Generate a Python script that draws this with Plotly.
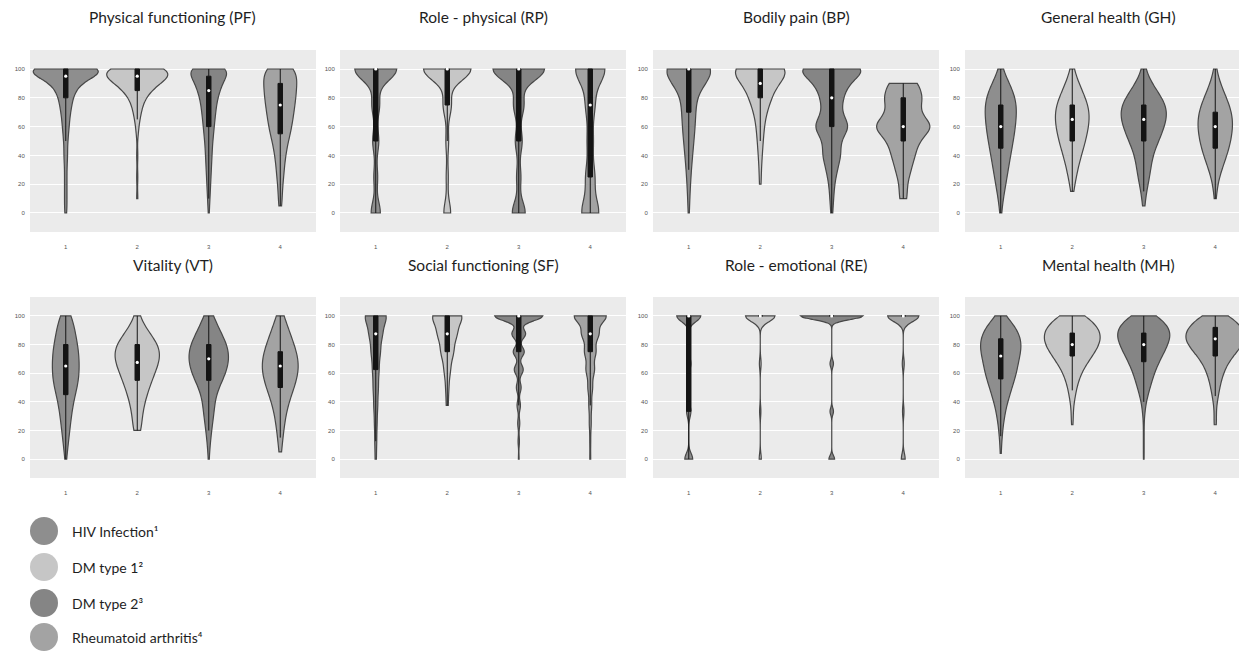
import numpy as np
import plotly.graph_objects as go

# ---------------- data (score levels and relative frequencies) -------------
GROUPS = ["HIV Infection¹", "DM type 1²", "DM type 2³", "Rheumatoid arthritis⁴"]
X_POS = [1, 2, 3, 4]
X_TICK_LABELS = ["1", "2", "3", "4"]
Y_TICKS = [0, 20, 40, 60, 80, 100]
PANEL_TITLES = ["Physical functioning (PF)", "Role - physical (RP)", "Bodily pain (BP)",
                "General health (GH)", "Vitality (VT)", "Social functioning (SF)",
                "Role - emotional (RE)", "Mental health (MH)"]

STEP5 = list(range(0, 101, 5))
STEP10 = list(range(0, 101, 10))
STEP4 = list(range(0, 101, 4))

PF_LEVELS = STEP5
PF_HIV = [1, 1, 1, 1, 1, 1, 1, 1, 2, 1, 2, 2, 3, 3, 4, 5, 6, 8, 12, 20, 50]
PF_DM1 = [0, 0, 1, 0, 0, 1, 0, 0, 1, 0, 0, 1, 1, 2, 3, 4, 6, 10, 16, 25, 30]
PF_DM2 = [1, 1, 2, 2, 3, 3, 4, 4, 5, 5, 6, 7, 8, 9, 10, 11, 13, 16, 20, 24, 40]
PF_RA = [0, 1, 1, 1, 1, 2, 2, 2, 3, 3, 4, 5, 6, 6, 7, 7, 8, 8, 8, 8, 12]
PF_N = [1120, 1020, 980, 1400]          # respondents per group (drives violin size)

RP_LEVELS = [0, 25, 50, 75, 100]
RP_HIV = [12, 5, 8, 10, 55]
RP_DM1 = [10, 3, 4, 12, 70]
RP_DM2 = [15, 5, 8, 12, 60]
RP_RA = [23, 12, 8, 12, 40]
RP_N = [800, 780, 1000, 1000]

BP_LEVELS = STEP10
BP_HIV = [1, 2, 3, 5, 7, 10, 12, 14, 13, 15, 90]
BP_DM1 = [0, 0, 1, 1, 2, 3, 4, 6, 12, 15, 40]
BP_DM2 = [1, 2, 3, 6, 10, 9, 20, 10, 12, 18, 40]
BP_RA = [0, 2, 2, 4, 6, 8, 16, 8, 10, 8, 0]
BP_N = [820, 760, 1120, 1140]

GH_LEVELS = STEP5
GH_HIV = [1, 1, 2, 3, 4, 5, 6, 7, 8, 9, 10, 11, 12, 12, 13, 13, 12, 10, 7, 4, 1]
GH_DM1 = [0, 0, 0, 1, 2, 3, 4, 5, 7, 8, 10, 11, 12, 13, 13, 12, 10, 7, 5, 3, 1]
GH_DM2 = [0, 1, 1, 2, 3, 4, 5, 5, 6, 8, 10, 13, 14, 16, 17, 16, 13, 9, 5, 3, 1]
GH_RA = [0, 0, 1, 1, 2, 3, 5, 7, 9, 11, 12, 13, 14, 14, 13, 11, 9, 6, 4, 2, 1]
GH_N = [740, 680, 870, 700]

VT_LEVELS = STEP5
VT_HIV = [1, 2, 3, 4, 5, 6, 7, 8, 10, 11, 15, 16, 17, 17, 17, 16, 15, 13, 11, 10, 9]
VT_DM1 = [0, 0, 0, 0, 5, 3, 4, 5, 6, 8, 10, 12, 14, 17, 19, 20, 18, 13, 8, 4, 2]
VT_DM2 = [1, 1, 2, 3, 4, 5, 7, 8, 8, 10, 13, 20, 24, 27, 29, 29, 26, 21, 15, 10, 8]
VT_RA = [0, 2, 2, 3, 4, 5, 6, 8, 10, 13, 16, 19, 21, 22, 21, 19, 16, 13, 10, 7, 5]
VT_N = [770, 930, 880, 870]

SF_LEVELS = [0, 12.5, 25, 37.5, 50, 62.5, 75, 87.5, 100]
SF_HIV = [2, 3, 4, 6, 8, 10, 14, 20, 35]
SF_DM1 = [0, 0, 0, 2, 3, 6, 12, 18, 30]
SF_DM2 = [1, 2, 3, 5, 7, 13, 16, 20, 70]
SF_RA = [1, 1, 2, 3, 5, 9, 12, 18, 35]
SF_N = [860, 970, 830, 970]

RE_LEVELS = [0, 100 / 3, 200 / 3, 100]
RE_HIV = [18, 10, 10, 55]
RE_DM1 = [5, 3, 4, 70]
RE_DM2 = [10, 6, 6, 110]
RE_RA = [8, 3, 4, 65]
RE_N = [930, 790, 1070, 880]

MH_LEVELS = STEP4
MH_HIV = [0, 1, 1, 1, 2, 2, 3, 4, 5, 6, 8, 10, 12, 14, 16, 18, 19, 20, 22, 23, 24, 23, 21, 17, 12, 6]
MH_DM1 = [0, 0, 0, 0, 0, 0, 1, 1, 1, 1, 2, 3, 4, 5, 7, 9, 12, 16, 20, 24, 27, 29, 29, 26, 21, 15]
MH_DM2 = [1, 0, 1, 0, 1, 0, 1, 0, 2, 2, 3, 5, 7, 9, 11, 13, 16, 19, 23, 27, 30, 33, 35, 32, 26, 19]
MH_RA = [0, 0, 0, 0, 0, 0, 2, 1, 1, 1, 2, 3, 4, 5, 6, 8, 10, 13, 17, 22, 27, 30, 30, 26, 21, 15]
MH_N = [1000, 1000, 1000, 1000]

# ---------------- style ----------------
FILLS = ["#8e8e8e", "#c6c6c6", "#858585", "#a3a3a3"]
OUTLINE = "#474747"
BANDWIDTHS = [[5, 5, 5, 7], [8, 8, 8, 10], [10, 8, 6, 6], [7, 7, 7, 7],
              [7, 7, 7, 7], [6, 6, 3.5, 5], [4, 4, 2.5, 4], [5, 5, 5, 5]]
MAX_WIDTHS = [0.91, 0.72, 0.81, 0.63, 0.62, 0.67, 0.87, 0.82]   # widest violin per panel
BOX_WIDTH = 0.062    # inner box width (x units)

PANELS = [
    (PF_LEVELS, [PF_HIV, PF_DM1, PF_DM2, PF_RA], PF_N),
    (RP_LEVELS, [RP_HIV, RP_DM1, RP_DM2, RP_RA], RP_N),
    (BP_LEVELS, [BP_HIV, BP_DM1, BP_DM2, BP_RA], BP_N),
    (GH_LEVELS, [GH_HIV, GH_DM1, GH_DM2, GH_RA], GH_N),
    (VT_LEVELS, [VT_HIV, VT_DM1, VT_DM2, VT_RA], VT_N),
    (SF_LEVELS, [SF_HIV, SF_DM1, SF_DM2, SF_RA], SF_N),
    (RE_LEVELS, [RE_HIV, RE_DM1, RE_DM2, RE_RA], RE_N),
    (MH_LEVELS, [MH_HIV, MH_DM1, MH_DM2, MH_RA], MH_N),
]


def kde_peak(samples, bw):
    """Peak of the gaussian KDE on the hard span (same estimator Plotly uses)."""
    lo, hi = samples.min(), samples.max()
    n = max(int(np.ceil((hi - lo) / (bw / 3))), 1)
    grid = np.linspace(lo, hi, n + 1)
    dens = np.exp(-0.5 * ((grid[:, None] - samples[None, :]) / bw) ** 2).sum(axis=1)
    return dens.max() / (len(samples) * bw * np.sqrt(2 * np.pi))


W, H = 1239, 653
COL_PX = [(30, 316), (340, 626), (653, 939), (965, 1251)]   # last column runs past the page edge
ROW_PX = [(50, 232), (297, 478)]
TITLE_Y = [17, 265]
Y_RANGE = [-13.2, 113.2]
TICK_FONT = dict(family="Liberation Sans, Arial", size=6, color="#555555")
TEXT_FONT = dict(family="Lato, Open Sans", color="#1e1e1e")

fig = go.Figure()
layout_axes = {}
annotations = []

for i, (levels, counts_list, sizes) in enumerate(PANELS):
    r, c = divmod(i, 4)
    k = i + 1
    xa = "x" if k == 1 else f"x{k}"
    ya = "y" if k == 1 else f"y{k}"
    x0, x1 = COL_PX[c]
    y0, y1 = ROW_PX[r]
    units_per_px = 4.0 / (x1 - x0)
    xr_max = 4.5 if x1 <= W else 0.5 + (W - x0) * units_per_px
    layout_axes["xaxis" if k == 1 else f"xaxis{k}"] = dict(
        domain=[x0 / W, min(x1, W) / W], range=[0.5, xr_max], anchor=ya,
        tickvals=X_POS, ticktext=X_TICK_LABELS, showgrid=False, zeroline=False,
        showline=False, ticks="outside", ticklen=9, tickcolor="rgba(0,0,0,0)",
        tickfont=TICK_FONT, fixedrange=True)
    layout_axes["yaxis" if k == 1 else f"yaxis{k}"] = dict(
        domain=[1 - y1 / H, 1 - y0 / H], range=Y_RANGE, anchor=xa,
        tickvals=Y_TICKS, showgrid=True, gridcolor="#ffffff", gridwidth=1.2,
        zeroline=False, showline=False, ticks="outside", ticklen=3,
        tickcolor="rgba(0,0,0,0)", tickfont=TICK_FONT, fixedrange=True)
    annotations.append(dict(
        text=PANEL_TITLES[i], xref="paper", yref="paper",
        x=((x0 + x1) / 2) / W, y=1 - TITLE_Y[r] / H, xanchor="center", yanchor="middle",
        showarrow=False, font=dict(size=15.5, **TEXT_FONT)))

    sample_sets = []
    for counts, n_total in zip(counts_list, sizes):
        cnt = np.array(counts, dtype=float)
        reps = np.round(cnt / cnt.sum() * n_total).astype(int)
        sample_sets.append(np.repeat(np.array(levels, dtype=float), reps))
    # violin size ~ density * number of respondents (count scaling)
    mass = [kde_peak(s, BANDWIDTHS[i][g]) * len(s) for g, s in enumerate(sample_sets)]
    top = max(mass)
    for g, samples in enumerate(sample_sets):
        vwidth = MAX_WIDTHS[i] * mass[g] / top
        fig.add_trace(go.Violin(
            x0=X_POS[g], y=samples, xaxis=xa, yaxis=ya, name=GROUPS[g],
            scalemode="width", width=vwidth,
            spanmode="hard", bandwidth=BANDWIDTHS[i][g], points=False,
            fillcolor=FILLS[g], line=dict(color=OUTLINE, width=1.2),
            box=dict(visible=True, width=min(1.0, BOX_WIDTH / vwidth), fillcolor="#141414",
                     line=dict(color="#141414", width=1)),
            meanline=dict(visible=False), showlegend=False, hoverinfo="skip"))
        fig.add_trace(go.Scatter(
            x=[X_POS[g]], y=[float(np.median(samples))], xaxis=xa, yaxis=ya,
            mode="markers", marker=dict(color="white", size=3.2, line=dict(width=0)),
            showlegend=False, hoverinfo="skip"))

# legend drawn as circles + labels
LEG_Y = [531, 567, 603, 637]
shapes = []
for g, name in enumerate(GROUPS):
    cy = LEG_Y[g]
    shapes.append(dict(type="circle", xref="paper", yref="paper",
                       x0=30 / W, x1=58 / W, y0=1 - (cy + 14) / H, y1=1 - (cy - 14) / H,
                       fillcolor=FILLS[g], line=dict(width=0)))
    annotations.append(dict(text=name, xref="paper", yref="paper", x=70 / W, y=1 - cy / H,
                            xanchor="left", yanchor="middle", showarrow=False,
                            font=dict(size=14, **TEXT_FONT)))

fig.update_layout(width=W, height=H, margin=dict(l=0, r=0, t=0, b=0),
                  paper_bgcolor="white", plot_bgcolor="#ebebeb", showlegend=False,
                  violinmode="overlay", annotations=annotations, shapes=shapes,
                  **layout_axes)

fig.write_html("out.html", config={"displayModeBar": False},
               post_script="document.body.style.margin='0';")
